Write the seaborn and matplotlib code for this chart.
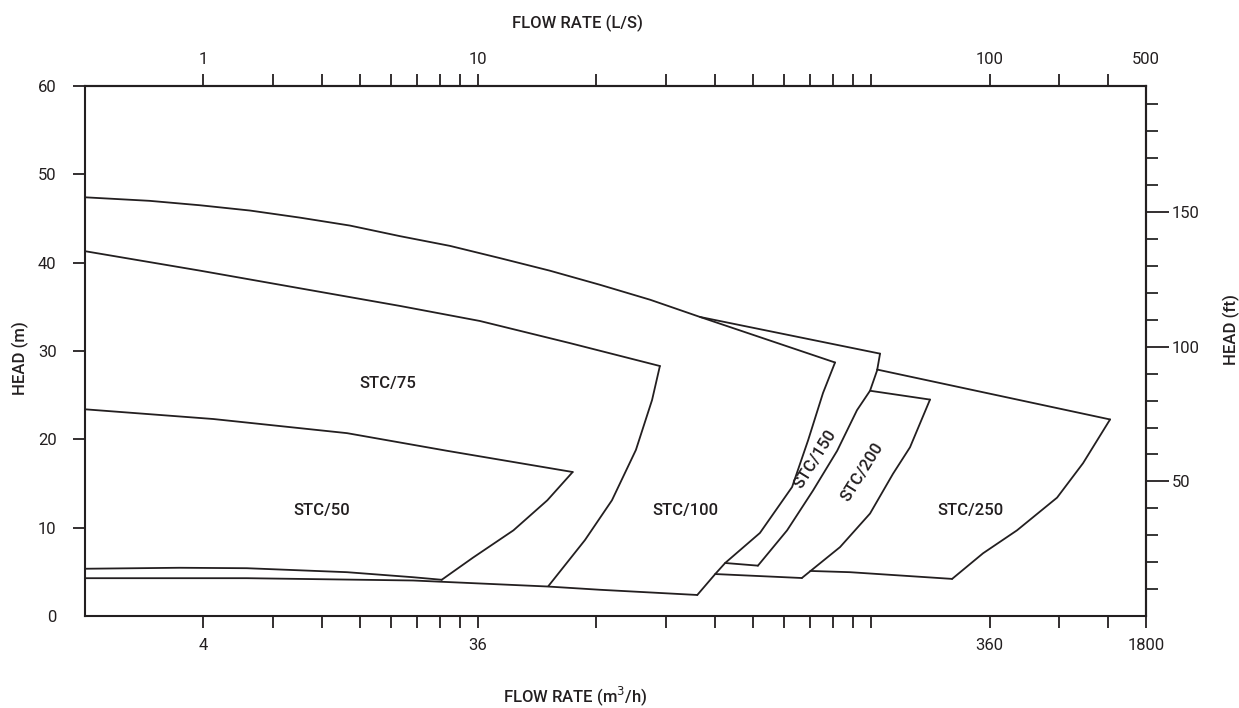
import numpy as np
import pandas as pd
import seaborn as sns
import matplotlib.pyplot as plt
from matplotlib.ticker import FixedLocator, FixedFormatter, NullLocator

# ----------------------------
# Data: flow in L/s (log axis), head in m
# ----------------------------
env_q = [1.0, 1.46, 1.96, 2.63, 3.52, 4.72, 6.33, 8.48, 11.4, 15.2, 20.4, 27.4, 36.7, 80.9]
env_h = [47.4, 47.0, 46.5, 45.9, 45.1, 44.2, 43.0, 41.9, 40.5, 39.1, 37.5, 35.8, 33.85, 28.7]

stc100_right_q = [80.9, 75.4, 69.1, 62.9, 52.1, 42.5, 40.1, 36.1]
stc100_right_h = [28.7, 25.25, 19.9, 14.6, 9.4, 6.0, 4.75, 2.38]

stc75_top_q = [1.0, 1.96, 3.52, 6.33, 10.1, 17.1, 29.0]
stc75_top_h = [41.3, 39.1, 37.1, 35.1, 33.4, 30.9, 28.3]
stc75_right_q = [29.0, 27.7, 25.2, 21.9, 18.7, 15.1]
stc75_right_h = [28.3, 24.45, 18.8, 13.1, 8.6, 3.4]

stc50_top_q = [1.0, 2.12, 4.64, 8.34, 17.4]
stc50_top_h = [23.4, 22.3, 20.7, 18.7, 16.3]
stc50_right_q = [17.4, 15.0, 12.3, 9.7, 8.08]
stc50_right_h = [16.3, 13.1, 9.7, 6.6, 4.1]
stc50_bottom_q = [1.0, 1.74, 2.58, 4.64, 6.83, 8.08]
stc50_bottom_h = [5.35, 5.46, 5.41, 4.96, 4.39, 4.10]

base_q = [1.0, 2.58, 6.83, 15.0, 20.4, 36.1]
base_h = [4.28, 4.28, 4.02, 3.34, 2.97, 2.38]

stc150_top_q = [36.7, 105.3]
stc150_top_h = [33.85, 29.7]
stc150_right_q = [105.3, 103.5, 99.3, 92.0, 81.9, 71.1, 61.1, 51.5]
stc150_right_h = [29.7, 27.8, 25.5, 23.3, 18.7, 14.2, 9.7, 5.7]
stc150_bottom_q = [42.5, 51.5]
stc150_bottom_h = [6.0, 5.7]

stc200_top_q = [99.3, 141.1]
stc200_top_h = [25.5, 24.5]
stc200_right_q = [141.1, 125.5, 113.6, 99.3, 83.3, 66.6]
stc200_right_h = [24.5, 19.1, 16.1, 11.6, 7.8, 4.3]
stc200_bottom_q = [40.1, 66.6]
stc200_bottom_h = [4.75, 4.3]

stc250_top_q = [103.5, 405.1]
stc250_top_h = [27.9, 22.25]
stc250_right_q = [405.1, 345.8, 297.0, 234.9, 192.5, 160.6]
stc250_right_h = [22.25, 17.3, 13.4, 9.7, 7.1, 4.2]
stc250_bottom_q = [70.0, 88.3, 160.6]
stc250_bottom_h = [5.1, 4.96, 4.2]

labels = ["STC/50", "STC/75", "STC/100", "STC/150", "STC/200", "STC/250"]
label_q = [4.01, 5.90, 33.6, 71.9, 94.8, 178.4]
label_h = [11.95, 26.3, 11.95, 17.8, 16.3, 11.95]
label_rot = [0, 0, 0, 58, 58, 0]

x_ticks = [2, 3, 4, 5, 6, 7, 8, 9, 10, 20, 30, 40, 50, 60, 70, 80, 90, 100, 200, 300, 400, 500]
top_labels = {2: "1", 10: "10", 200: "100", 500: "500"}
bottom_labels = {2: "4", 10: "36", 200: "360", 500: "1800"}
ft_major = [50, 100, 150]
ft_minor = [10, 20, 30, 40, 60, 70, 80, 90, 110, 120, 130, 140, 160, 170, 180, 190]

# ----------------------------
# Plot
# ----------------------------
sns.set_style("white")
plt.rcParams["font.family"] = ["Roboto", "DejaVu Sans"]
ink = "#231f20"
fs = 12

fig = plt.figure(figsize=(12.39, 7.08), dpi=100)
ax = fig.add_axes([85 / 1239, 1 - 616 / 708, 1061 / 1239, 530 / 708])

lines = [
    (env_q, env_h), (stc100_right_q, stc100_right_h),
    (stc75_top_q, stc75_top_h), (stc75_right_q, stc75_right_h),
    (stc50_top_q, stc50_top_h), (stc50_right_q, stc50_right_h), (stc50_bottom_q, stc50_bottom_h),
    (base_q, base_h),
    (stc150_top_q, stc150_top_h), (stc150_right_q, stc150_right_h), (stc150_bottom_q, stc150_bottom_h),
    (stc200_top_q, stc200_top_h), (stc200_right_q, stc200_right_h), (stc200_bottom_q, stc200_bottom_h),
    (stc250_top_q, stc250_top_h), (stc250_right_q, stc250_right_h), (stc250_bottom_q, stc250_bottom_h),
]
for q, h in lines:
    sns.lineplot(x=q, y=h, sort=False, estimator=None, color=ink, linewidth=1.3, ax=ax)

for txt, q, h, r in zip(labels, label_q, label_h, label_rot):
    ax.text(q, h, txt, rotation=r, ha="center", va="center", fontsize=fs,
            fontweight="medium", color=ink)

ax.set_xscale("log")
ax.set_xlim(1, 500)
ax.set_ylim(0, 60)
ax.set_xlabel("")
ax.set_ylabel("")

for s in ax.spines.values():
    s.set_linewidth(1.5)
    s.set_color(ink)

# bottom axis (m3/h)
ax.xaxis.set_major_locator(FixedLocator(x_ticks))
ax.xaxis.set_major_formatter(FixedFormatter([bottom_labels.get(t, "") for t in x_ticks]))
ax.xaxis.set_minor_locator(NullLocator())
ax.tick_params(axis="x", direction="out", length=8.5, width=1.3, pad=7,
               labelsize=fs, colors=ink, bottom=True)

# left axis (m)
ax.set_yticks([0, 10, 20, 30, 40, 50, 60])
ax.tick_params(axis="y", direction="out", length=8.5, width=1.3, pad=12,
               labelsize=fs, colors=ink, left=True)
ax.yaxis.get_major_ticks()[0].tick1line.set_visible(False)

# top axis (L/s)
top = ax.secondary_xaxis("top")
top.xaxis.set_major_locator(FixedLocator(x_ticks))
top.xaxis.set_major_formatter(FixedFormatter([top_labels.get(t, "") for t in x_ticks]))
top.xaxis.set_minor_locator(NullLocator())
top.tick_params(axis="x", direction="out", length=8.5, width=1.3, pad=5,
                labelsize=fs, colors=ink)
top.spines["top"].set_linewidth(1.5)
top.xaxis.get_major_ticks()[-1].tick2line.set_visible(False)

# right axis (ft)
right = ax.secondary_yaxis("right", functions=(lambda m: m / 0.3048, lambda ft: ft * 0.3048))
right.yaxis.set_major_locator(FixedLocator(ft_major))
right.yaxis.set_minor_locator(FixedLocator(ft_minor))
right.tick_params(axis="y", which="major", direction="out", length=16.5, width=1.3, pad=2,
                  labelsize=fs, colors=ink)
right.tick_params(axis="y", which="minor", direction="out", length=8.5, width=1.3)
right.spines["right"].set_linewidth(1.5)

# axis titles
fig.text(577 / 1239, 1 - 23 / 708, "FLOW RATE (L/S)", ha="center", va="center",
         fontsize=fs, fontweight="medium", color=ink)
fig.text(575 / 1239, 1 - 696 / 708, "FLOW RATE (m$^3$/h)", ha="center", va="center",
         fontsize=fs, fontweight="medium", color=ink)
fig.text(20 / 1239, 1 - 358 / 708, "HEAD (m)", rotation=90, ha="center", va="center",
         fontsize=fs, fontweight="medium", color=ink)
fig.text(1231 / 1239, 1 - 330 / 708, "HEAD (ft)", rotation=90, ha="center", va="center",
         fontsize=fs, fontweight="medium", color=ink)

fig.savefig("out.png", dpi=100)
